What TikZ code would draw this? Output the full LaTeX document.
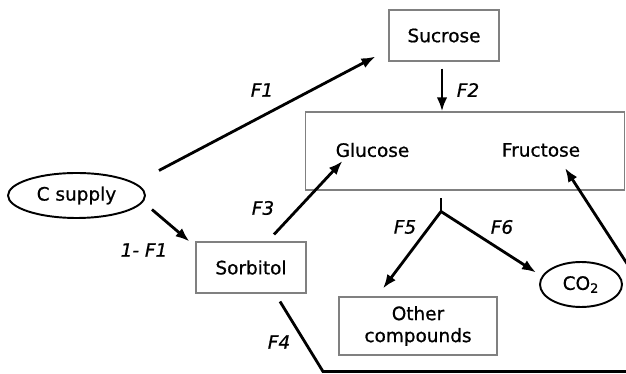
\documentclass[tikz,border=0pt]{standalone}
\usepackage{fontspec}
\setmainfont[FakeBold=0.8]{DejaVu Sans}
\usepackage{tikz}
\usetikzlibrary{positioning, calc}
\usetikzlibrary{arrows,arrows.meta,shapes}

\begin{document}
\begin{tikzpicture}[x=0.02cm,y=-0.02cm,font=\fontsize{10.5}{12.5}\selectfont]
\definecolor{boxgray}{RGB}{128,128,128};
\tikzstyle{pool}=[draw=boxgray, line width=0.6pt, shape=rectangle, align=center];
\tikzstyle{source}=[draw, line width=1.1pt, shape=ellipse, inner sep=0pt];
\tikzstyle{flux}=[line width=1.6pt, -{Latex[length=8pt,width=6pt]}];
\tikzstyle{fname}=[font=\fontsize{10.5}{12.5}\selectfont\itshape];
\useasboundingbox (0,0) rectangle (626,374);
% pools
\node [pool, minimum width=2.2cm, minimum height=1.02cm] (sucrose) at (444,35.5) {Sucrose};
\node [pool, minimum width=6.4cm, minimum height=1.56cm] (sugars) at (465,151) {};
\node (glucose) at (372.5,150) {Glucose};
\node (fructose) at (541,150) {Fructose};
\node [pool, minimum width=2.2cm, minimum height=1.02cm] (sorbitol) at (251,267.5) {Sorbitol};
\node [pool, minimum width=3.16cm, minimum height=1.16cm] (other) at (418,326) {Other\\compounds};
\node [source, minimum width=2.74cm, minimum height=0.9cm] (csupply) at (76.5,195.5) {C supply};
\node [source, minimum width=1.64cm, minimum height=0.9cm] (co2) at (581,284.5) {CO\textsubscript{2}};
% fluxes
\draw [flux] ($(csupply.east)+(13,-25)$) -- ($(sucrose.south west)+(-13,-5)$);
\draw [flux] ($(csupply.east)+(6,14)$) -- ($(sorbitol.north west)+(-6,0)$);
\draw [flux] ($(sucrose.south)+(-2,7)$) -- ($(sucrose.south |- sugars.north)+(-2,0)$);
\draw [flux] ($(sorbitol.north)+(23,-7)$) -- ($(glucose)+(-30,11)$);
\draw [flux] ($(sorbitol.south)+(29,8)$) -- ++(43,70) -- ++(374,0) -- ($(fructose)+(24,18)$);
\coordinate (split) at ($(sugars.south)+(-24,21)$);
\draw [line width=1.6pt] (split) -- ++(0,-14);
\draw [flux] (split) -- ($(other.north)+(-35,-8)$);
\draw [flux] (split) -- ($(co2.west)+(-3,-12)$);
% labels
\foreach \lab/\x/\y/\txt in {f1/262/90/F1, f2/468/90/F2, f3/263/208/F3, g1/144/250/1- F1,
                            f4/279/342/F4, f5/405/227/F5, f6/502/227/F6} {
	\node [fname] (l\lab) at (\x,\y) {\txt};
}
\end{tikzpicture}
\end{document}
